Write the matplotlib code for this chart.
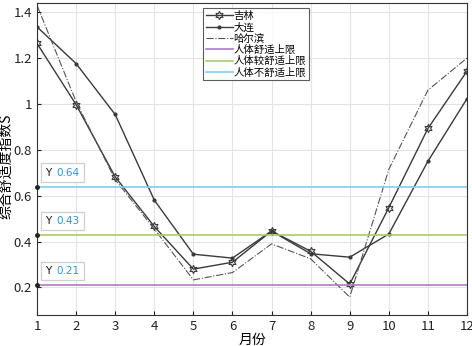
import matplotlib.pyplot as plt
from matplotlib.offsetbox import TextArea, HPacker, AnnotationBbox

plt.rcParams['font.family'] = ['Noto Sans CJK SC', 'DejaVu Sans']

months = list(range(1, 13))
jilin = [1.264, 0.997, 0.682, 0.466, 0.280, 0.310, 0.446, 0.358, 0.215, 0.548, 0.893, 1.143]
dalian = [1.336, 1.176, 0.954, 0.581, 0.345, 0.328, 0.446, 0.347, 0.332, 0.433, 0.750, 1.023]
harbin = [1.430, 1.010, 0.670, 0.455, 0.233, 0.265, 0.390, 0.325, 0.158, 0.715, 1.060, 1.200]
limits = [0.21, 0.43, 0.64]
limit_names = ['人体舒适上限', '人体较舒适上限', '人体不舒适上限']
limit_colors = ['#b07cc6', '#a8cc6a', '#7ecef0']

fig = plt.figure(figsize=(4.72, 3.46), dpi=100)
ax = fig.add_axes([37/472, 1-315/346, 430/472, 312/346])

ax.plot(months, jilin, color='#3a3a3a', lw=1, marker=(6, 1, 0), ms=6, mfc='none', mec='#3a3a3a', mew=0.8, label='吉林')
ax.plot(months, dalian, color='#3a3a3a', lw=1, marker='.', ms=4, label='大连')
ax.plot(months, harbin, color='#555555', lw=0.8, ls='-.', label='哈尔滨')
for v, n, c in zip(limits, limit_names, limit_colors):
	ax.axhline(v, color=c, lw=1.2, label=n)

# data tips
for v in limits:
	ax.plot([1], [v], 'o', color='#222222', ms=2.5, clip_on=False, zorder=5)
	ta = TextArea('Y', textprops=dict(fontsize=7.5, family='DejaVu Sans', color='#111111'))
	tb = TextArea('%.2f' % v, textprops=dict(fontsize=7.5, family='DejaVu Sans', color='#1a9cf0'))
	box = HPacker(children=[ta, tb], pad=0, sep=4, align='baseline')
	ab = AnnotationBbox(box, (1, v), xybox=(5.6, 6.5), xycoords='data', boxcoords='offset points',
		box_alignment=(0, 0), frameon=True, pad=0.5,
		bboxprops=dict(boxstyle='square', fc='white', ec='#cfcfcf', lw=0.9))
	ax.add_artist(ab)

ax.set_xlim(1, 12)
ax.set_ylim(0.08, 1.44)
ax.set_xticks(months)
ax.set_yticks([0.2, 0.4, 0.6, 0.8, 1.0, 1.2, 1.4])
ax.set_yticklabels(['0.2', '0.4', '0.6', '0.8', '1', '1.2', '1.4'])
ax.grid(True, color='#e3e3e3', lw=0.8)
ax.set_axisbelow(True)
ax.tick_params(labelsize=9.5, direction='in', length=3, colors='#222222')
for s in ax.spines.values():
	s.set_color('#333333')
	s.set_linewidth(0.8)
ax.set_xlabel('月份', fontsize=10, labelpad=0)
ax.set_ylabel('综合舒适度指数S', fontsize=10)
ax.yaxis.set_label_coords(-0.054, 0.475)

leg = ax.legend(loc='upper left', bbox_to_anchor=(166/430, 0.983), fontsize=7.5, frameon=True,
	fancybox=False, edgecolor='#333333', handlelength=2.6, handletextpad=0.1,
	labelspacing=0.12, borderpad=0.25, borderaxespad=0)
leg.get_frame().set_linewidth(0.8)

plt.savefig('out.png', dpi=100)
